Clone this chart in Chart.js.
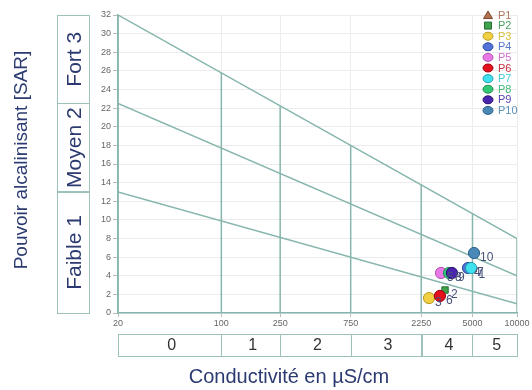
<!DOCTYPE html>
<html><head><meta charset="utf-8">
<script src="https://cdn.jsdelivr.net/npm/chart.js@4/dist/chart.umd.min.js"></script>
<style>html,body{margin:0;padding:0;background:#fff}#wrap{width:532px;height:390px}</style>
</head><body><div id="wrap"><canvas id="c" width="532" height="390"></canvas></div>
<script>
const xTicks=[20,100,250,750,2250,5000,10000];
const salinityClasses=['0','1','2','3','4','5'];
const sarClassBounds=[0,13,22.5,32];
const sarClassNames=['Faible 1','Moyen 2','Fort 3'];
const seriesNames=['P1','P2','P3','P4','P5','P6','P7','P8','P9','P10'];
const pointLabels=['1','2','3','4','5','6','7','8','9','10'];
const condValues=[5000,3260,2540,4660,3060,3010,4890,3470,3630,5120];
const sarValues=[4.7,2.47,1.6,4.83,4.3,1.83,4.83,4.3,4.3,6.44];
const diagLeft=[32,22.5,13];
const diagRight=[8,4,1];
const vLineX=[100,250,750,2250,5000,10000];
const vLineTop=[25.8,22.2,18,13.8,10.7,8];

const fills=['#b5724f','#3fa34d','#f0d040','#5272d8','#e87ae8','#e3101e','#40e2f0','#32c878','#4a26b0','#4a88b8'];
const borders=['#7a4a30','#236b30','#b89a20','#2f4aa0','#b050b0','#a00010','#1fa0b0','#1f8a50','#2a1270','#2c6088'];
const textCols=['#b07a60','#4aa060','#d8c040','#5a78d0','#d070d0','#c83040','#40c8d8','#40b878','#5a40b0','#5a90b8'];
const styles=['triangle','rect','circle','circle','circle','circle','circle','circle','circle','circle'];
const teal='#86b6ad';
const FF='"Liberation Sans", Arial, sans-serif';

const datasets=[];
for(let i=0;i<diagLeft.length;i++){
  datasets.push({data:[{x:xTicks[0],y:diagLeft[i]},{x:xTicks[xTicks.length-1],y:diagRight[i]}],showLine:true,pointRadius:0,borderColor:teal,borderWidth:1.5,isLine:true,order:50});
}
for(let i=0;i<vLineX.length;i++){
  datasets.push({data:[{x:vLineX[i],y:0},{x:vLineX[i],y:vLineTop[i]}],showLine:true,pointRadius:0,borderColor:teal,borderWidth:1.5,isLine:true,order:50});
}
datasets.push({data:[{x:xTicks[0],y:0},{x:xTicks[0],y:32}],showLine:true,pointRadius:0,borderColor:teal,borderWidth:1.5,isLine:true,order:50});
for(let i=0;i<seriesNames.length;i++){
  datasets.push({label:seriesNames[i],data:[{x:condValues[i],y:sarValues[i]}],pointStyle:styles[i],
    pointRadius:styles[i]==='rect'?4.5:(styles[i]==='triangle'?5:5.6),backgroundColor:fills[i],borderColor:borders[i],borderWidth:1,
    ptLabel:pointLabels[i],txtCol:textCols[i],order:seriesNames.length-i});
}

const deco={id:'deco',afterDraw(chart){
  const ctx=chart.ctx, xs=chart.scales.x, ys=chart.scales.y;
  ctx.save();
  ctx.strokeStyle='#9cc2bb';ctx.lineWidth=1;
  const bx0=57,bx1=89;
  for(let i=0;i<sarClassNames.length;i++){
    const yb=ys.getPixelForValue(sarClassBounds[i]), yt=ys.getPixelForValue(sarClassBounds[i+1]);
    ctx.strokeRect(bx0+0.5,Math.round(yt)+0.5,bx1-bx0,Math.round(yb-yt));
    ctx.save();ctx.translate((bx0+bx1)/2+2,(yb+yt)/2);ctx.rotate(-Math.PI/2);
    ctx.fillStyle='#2b3a70';ctx.font='21px '+FF;ctx.textAlign='center';ctx.textBaseline='middle';
    ctx.fillText(sarClassNames[i],0,0);ctx.restore();
  }
  const by0=334,by1=356;
  for(let i=0;i<salinityClasses.length;i++){
    const xl=xs.getPixelForValue(xTicks[i]), xr=xs.getPixelForValue(xTicks[i+1]);
    ctx.strokeRect(Math.round(xl)+0.5,by0+0.5,Math.round(xr-xl),by1-by0);
    ctx.fillStyle='#333';ctx.font='16px '+FF;ctx.textAlign='center';ctx.textBaseline='middle';
    ctx.fillText(salinityClasses[i],(xl+xr)/2+2,(by0+by1)/2+1);
  }
  ctx.fillStyle='#2b3a70';ctx.font='20px '+FF;ctx.textAlign='center';ctx.textBaseline='middle';
  ctx.fillText('Conductivité en µS/cm',289,377);
  ctx.save();ctx.translate(22,160);ctx.rotate(-Math.PI/2);
  ctx.font='19px '+FF;
  ctx.fillText('Pouvoir alcalinisant [SAR]',0,0);ctx.restore();
  ctx.font='12px '+FF;ctx.fillStyle='#45507a';ctx.textAlign='left';ctx.textBaseline='middle';
  chart.data.datasets.forEach((ds,di)=>{
    if(ds.isLine)return;
    const el=chart.getDatasetMeta(di).data[0];
    ctx.fillText(ds.ptLabel,el.x+6,el.y+5);
  });
  let ly=15;
  ctx.font='11px '+FF;
  chart.data.datasets.forEach((ds)=>{
    if(ds.isLine)return;
    const mx=488;
    ctx.fillStyle=ds.backgroundColor;ctx.strokeStyle=ds.borderColor;ctx.lineWidth=1;
    ctx.beginPath();
    if(ds.pointStyle==='triangle'){ctx.moveTo(mx,ly-4);ctx.lineTo(mx+4.5,ly+3.5);ctx.lineTo(mx-4.5,ly+3.5);ctx.closePath();}
    else if(ds.pointStyle==='rect'){ctx.rect(mx-3.5,ly-3.5,7,7);}
    else{ctx.ellipse(mx,ly,5,4,0,0,Math.PI*2);}
    ctx.fill();ctx.stroke();
    ctx.fillStyle=ds.txtCol;ctx.textAlign='left';ctx.textBaseline='middle';
    ctx.fillText(ds.label,498,ly+0.5);
    ly+=10.6;
  });
  ctx.restore();
}};

new Chart(document.getElementById('c'),{
  type:'scatter',
  data:{datasets},
  options:{
    responsive:false,animation:false,
    layout:{padding:{top:15,right:15,left:0,bottom:0}},
    plugins:{legend:{display:false},tooltip:{enabled:false}},
    scales:{
      x:{type:'logarithmic',min:20,max:10000,
        afterBuildTicks(s){s.ticks=xTicks.map(v=>({value:v}));},
        afterFit(s){s.height=77;},
        ticks:{callback:(v)=>String(v),font:{size:9,family:FF},color:'#666',maxRotation:0,autoSkip:false,padding:1},
        grid:{color:'#ececec',tickLength:4,tickColor:'#bbb'},
        border:{color:teal,width:1.5}},
      y:{min:0,max:32,
        afterFit(s){s.width=118;},
        ticks:{stepSize:2,font:{size:9,family:FF},color:'#666',padding:2},
        grid:{color:'#ececec',tickLength:5,tickColor:'#bbb'},
        border:{color:teal,width:1.5}}
    }
  },
  plugins:[deco]
});
</script></body></html>
